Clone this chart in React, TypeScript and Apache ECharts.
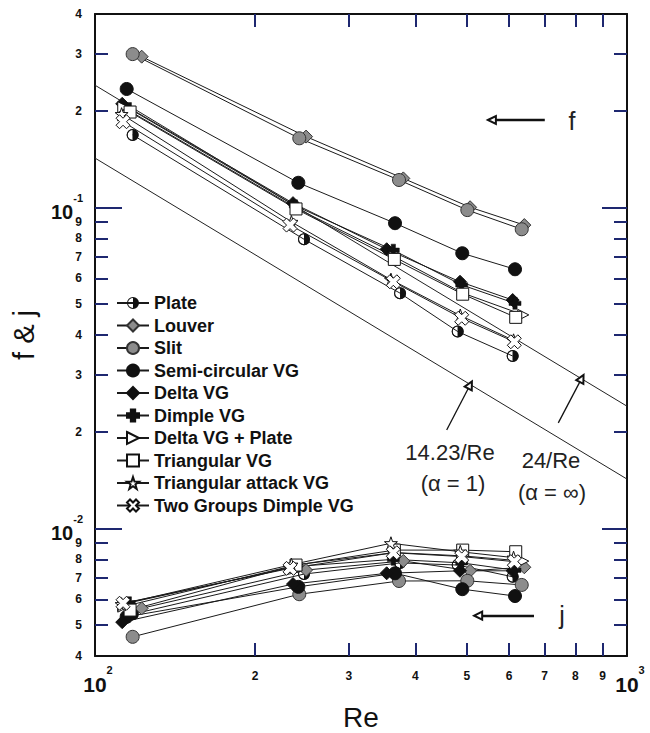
import React, { useEffect, useRef } from 'react';
import * as echarts from 'echarts';

// ---------- data ----------
const SERIES_NAMES = [
  'Plate', 'Louver', 'Slit', 'Semi-circular VG', 'Delta VG', 'Dimple VG',
  'Delta VG + Plate', 'Triangular VG', 'Triangular attack VG', 'Two Groups Dimple VG',
];

const RE_PLATE = [117.7, 247.1, 374.5, 480.6, 609.7];
const F_PLATE = [0.168, 0.0795, 0.054, 0.041, 0.0344];
const J_PLATE = [0.0054, 0.0072, 0.0078, 0.00768, 0.00706];

const RE_LOUVER = [122.4, 249.3, 379.8, 507.0, 641.2];
const F_LOUVER = [0.2945, 0.166, 0.123, 0.1, 0.088];
const J_LOUVER = [0.00563, 0.00741, 0.00791, 0.00737, 0.00756];

const RE_SLIT = [117.7, 242.1, 372.8, 501.0, 634.1];
const F_SLIT = [0.3, 0.164, 0.1216, 0.098, 0.0854];
const J_SLIT = [0.00459, 0.00623, 0.00685, 0.00686, 0.00666];

const RE_SEMI = [114.7, 241.1, 366.4, 490.2, 615.9];
const F_SEMI = [0.2336, 0.1192, 0.0892, 0.0719, 0.0641];
const J_SEMI = [0.0053, 0.00657, 0.00724, 0.00646, 0.00615];

const RE_DELTA = [112.5, 235.6, 353.4, 485.4, 609.7];
const F_DELTA = [0.21, 0.103, 0.074, 0.0586, 0.0514];
const J_DELTA = [0.0051, 0.0067, 0.00724, 0.00737, 0.00737];

const RE_DIMPLE = [116.0, 238.0, 363.7, 489.0, 615.9];
const F_DIMPLE = [0.203, 0.101, 0.0735, 0.0573, 0.0502];
const J_DIMPLE = [0.00586, 0.0076, 0.008, 0.0078, 0.0074];

const RE_DELTA_PLATE = [113.0, 240.0, 366.0, 492.0, 638.4];
const F_DELTA_PLATE = [0.205, 0.099, 0.07, 0.054, 0.0462];
const J_DELTA_PLATE = [0.0057, 0.0077, 0.0084, 0.0082, 0.0079];

const RE_TRIANGULAR = [116.4, 238.7, 365.3, 491.1, 617.8];
const F_TRIANGULAR = [0.198, 0.0988, 0.0688, 0.0536, 0.0454];
const J_TRIANGULAR = [0.00556, 0.00768, 0.00855, 0.00855, 0.00845];

const RE_TRI_ATTACK = [112.2, 234.0, 360.0, 486.0, 612.0];
const F_TRI_ATTACK = [0.195, 0.09, 0.0595, 0.046, 0.0385];
const J_TRI_ATTACK = [0.0058, 0.0077, 0.00898, 0.00845, 0.0081];

const RE_TWO_GROUPS = [112.9, 232.6, 363.7, 489.0, 614.0];
const F_TWO_GROUPS = [0.1847, 0.088, 0.0586, 0.0451, 0.0381];
const J_TWO_GROUPS = [0.00584, 0.0075, 0.00839, 0.00816, 0.00787];

// theoretical lines 14.23/Re and 24/Re, at Re = 100 and 1000
const REF_RE = [100, 1000];
const REF_14 = [0.1423, 0.01423];
const REF_24 = [0.24, 0.024];

// annotation arrows [Re, value]
const ARROW_14_FROM = [458.2, 0.02024];
const ARROW_14_TO = [507.0, 0.02794];
const ARROW_24_FROM = [742.8, 0.0213];
const ARROW_24_TO = [821.9, 0.0293];
const ARROW_F_FROM = [700.6, 0.187];
const ARROW_F_TO = [557.2, 0.187];
const ARROW_J_FROM = [668.6, 0.00534];
const ARROW_J_TO = [525.1, 0.00534];

// axes
const X_MIN = 100;
const X_MAX = 1000;
const Y_MIN = 0.004;
const Y_MAX = 0.4;
const X_TICKS = [200, 300, 400, 500, 600, 700, 800, 900];
const X_TICK_LABELS = ['2', '3', '4', '5', '6', '7', '8', '9'];
const X_DECADES = [100, 1000];
const X_DECADE_EXP = ['2', '3'];
const Y_TICKS = [0.004, 0.005, 0.006, 0.007, 0.008, 0.009, 0.02, 0.03, 0.04, 0.05, 0.06, 0.07, 0.08, 0.09, 0.2, 0.3, 0.4];
const Y_TICK_LABELS = ['4', '5', '6', '7', '8', '9', '2', '3', '4', '5', '6', '7', '8', '9', '2', '3', '4'];
const Y_DECADES = [0.01, 0.1];
const Y_DECADE_EXP = ['-2', '-1'];

// ---------- styles ----------
const PLATE_SYMBOL = 'path://M0,6A6,6 0 1 1 12,6A6,6 0 1 1 0,6Z M1,6A5,5 0 1 0 11,6A5,5 0 1 0 1,6Z M6,1A5,5 0 0 1 6,11Z';
const PLUS_SYMBOL = 'path://M3.2,0H6.8V3.2H10V6.8H6.8V10H3.2V6.8H0V3.2H3.2Z';
const X_SYMBOL = 'path://M0,2.5L2.5,0L5,2.5L7.5,0L10,2.5L7.5,5L10,7.5L7.5,10L5,7.5L2.5,10L0,7.5L2.5,5Z';
const STAR_SYMBOL = 'path://M5,0L6.18,3.38L9.76,3.45L6.9,5.62L7.94,9.05L5,7L2.06,9.05L3.1,5.62L0.24,3.45L3.82,3.38Z';
const TRI_SYMBOL = 'path://M0,0L10,5L0,10Z';

type St = { symbol: string; size: number; fill: string; border: string; bw: number };
const STYLES: Record<string, St> = {
  'Plate': { symbol: PLATE_SYMBOL, size: 12, fill: '#111', border: '#111', bw: 0 },
  'Louver': { symbol: 'diamond', size: 13, fill: '#8c8c8c', border: '#333', bw: 1 },
  'Slit': { symbol: 'circle', size: 13, fill: '#8c8c8c', border: '#333', bw: 1 },
  'Semi-circular VG': { symbol: 'circle', size: 13, fill: '#111', border: '#111', bw: 1 },
  'Delta VG': { symbol: 'diamond', size: 13, fill: '#111', border: '#111', bw: 1 },
  'Dimple VG': { symbol: PLUS_SYMBOL, size: 12, fill: '#111', border: '#111', bw: 0.5 },
  'Delta VG + Plate': { symbol: TRI_SYMBOL, size: 11, fill: '#fff', border: '#111', bw: 1 },
  'Triangular VG': { symbol: 'rect', size: 12, fill: '#fff', border: '#111', bw: 1 },
  'Triangular attack VG': { symbol: STAR_SYMBOL, size: 13, fill: '#fff', border: '#111', bw: 1 },
  'Two Groups Dimple VG': { symbol: X_SYMBOL, size: 14, fill: '#fff', border: '#111', bw: 1 },
};

const DESIGNS = [
  { name: 'Plate', re: RE_PLATE, f: F_PLATE, j: J_PLATE },
  { name: 'Louver', re: RE_LOUVER, f: F_LOUVER, j: J_LOUVER },
  { name: 'Slit', re: RE_SLIT, f: F_SLIT, j: J_SLIT },
  { name: 'Semi-circular VG', re: RE_SEMI, f: F_SEMI, j: J_SEMI },
  { name: 'Delta VG', re: RE_DELTA, f: F_DELTA, j: J_DELTA },
  { name: 'Dimple VG', re: RE_DIMPLE, f: F_DIMPLE, j: J_DIMPLE },
  { name: 'Delta VG + Plate', re: RE_DELTA_PLATE, f: F_DELTA_PLATE, j: J_DELTA_PLATE },
  { name: 'Triangular VG', re: RE_TRIANGULAR, f: F_TRIANGULAR, j: J_TRIANGULAR },
  { name: 'Triangular attack VG', re: RE_TRI_ATTACK, f: F_TRI_ATTACK, j: J_TRI_ATTACK },
  { name: 'Two Groups Dimple VG', re: RE_TWO_GROUPS, f: F_TWO_GROUPS, j: J_TWO_GROUPS },
];

const LOG = (v: number) => Math.log10(v);
const FONT = 'Liberation Sans';
const TICK_INK = '#1e2870';

function lookupLabel(ticks: number[], labels: string[], v: number) {
  for (let i = 0; i < ticks.length; i++) {
    if (Math.abs(LOG(ticks[i]) - v) < 1e-6) return labels[i];
  }
  return '';
}

function buildSeries(): any[] {
  const out: any[] = [];
  DESIGNS.forEach((d) => {
    const st = STYLES[d.name];
    [d.f, d.j].forEach((vals) => {
      const data = d.re.map((r, i) => [r, vals[i]]);
      out.push({
        name: d.name, type: 'line', xAxisIndex: 0, yAxisIndex: 0, data,
        symbol: st.symbol, symbolSize: st.size, showSymbol: true,
        lineStyle: { color: '#1a1a1a', width: 1 },
        itemStyle: { color: st.fill, borderColor: st.border, borderWidth: st.bw },
        emphasis: { disabled: true }, silent: true,
      });
      if (d.name === 'Plate') {
        out.push({ name: 'Plate-cover', type: 'scatter', data, symbol: 'circle', symbolSize: 10, itemStyle: { color: '#fff' }, silent: true });
        out.push({ name: 'Plate-top', type: 'scatter', data, symbol: PLATE_SYMBOL, symbolSize: 12, itemStyle: { color: '#111' }, silent: true });
      }
    });
  });
  out.push({
    name: 'ref14', type: 'line', data: REF_RE.map((r, i) => [r, REF_14[i]]), symbol: 'none',
    lineStyle: { color: '#222', width: 1 }, silent: true,
    markLine: {
      silent: true, symbol: ['none', 'emptyTriangle'], symbolSize: 8, label: { show: false },
      emphasis: { disabled: true }, lineStyle: { color: '#111', width: 1.3, type: 'solid' },
      data: [
        [{ coord: ARROW_14_FROM }, { coord: ARROW_14_TO }],
        [{ coord: ARROW_24_FROM }, { coord: ARROW_24_TO }],
        [{ coord: ARROW_F_FROM, lineStyle: { width: 2.4, color: '#111', type: 'solid' } }, { coord: ARROW_F_TO }],
        [{ coord: ARROW_J_FROM, lineStyle: { width: 2.4, color: '#111', type: 'solid' } }, { coord: ARROW_J_TO }],
      ],
    },
  });
  out.push({
    name: 'ref24', type: 'line', data: REF_RE.map((r, i) => [r, REF_24[i]]), symbol: 'none',
    lineStyle: { color: '#222', width: 1 }, silent: true,
  });
  return out;
}

function textGraphics(): any[] {
  const t = (id: string, x: number, y: number, text: string, size: number) => ({
    type: 'text', id, x, y,
    style: { text, fontFamily: FONT, fontSize: size, fill: '#222', align: 'center', verticalAlign: 'middle' },
  });
  return [
    t('t14', 450, 452, '14.23/Re', 22),
    t('t14a', 453, 483, '(α = 1)', 22),
    t('t24', 551, 460, '24/Re', 22),
    t('t24a', 552, 492, '(α = ∞)', 22),
    t('tf', 572, 121, 'f', 25),
    t('tj', 562, 615, 'j', 25),
  ];
}

function buildOption(): any {
  const axisLineStyle = { color: '#111', width: 2 };
  const tickLine = { color: TICK_INK, width: 2 };
  const labelFont = { fontFamily: FONT, fontWeight: 'bold', fontSize: 12, color: '#111' };
  const xL = LOG(X_MIN);
  const xH = LOG(X_MAX);
  const yL = LOG(Y_MIN);
  const yH = LOG(Y_MAX);
  const X_MINOR = X_TICKS.map(LOG);
  const Y_MINOR = Y_TICKS.slice(1, -1).map(LOG);
  const Y_MAJOR = Y_DECADES.map(LOG);

  const xValueAxis = (extra: any) => ({
    type: 'value', min: xL, max: xH, splitLine: { show: false },
    axisLine: { show: false, onZero: false }, axisTick: { show: false }, axisLabel: { show: false }, ...extra,
  });
  const yValueAxis = (extra: any) => ({
    type: 'value', min: yL, max: yH, splitLine: { show: false },
    axisLine: { show: false, onZero: false }, axisTick: { show: false }, axisLabel: { show: false }, ...extra,
  });

  return {
    animation: false,
    backgroundColor: '#fff',
    textStyle: { fontFamily: FONT },
    grid: { left: 95, top: 14, width: 532, height: 642, containLabel: false, outerBoundsMode: 'none' },
    legend: {
      data: SERIES_NAMES, orient: 'vertical', left: 116, top: 294, padding: 0,
      itemWidth: 32, itemHeight: 15, itemGap: 4.5, selectedMode: false,
      textStyle: { fontFamily: FONT, fontWeight: 'bold', fontSize: 18, color: '#111', lineHeight: 18 },
    },
    xAxis: [
      {
        type: 'log', logBase: 10, min: X_MIN, max: X_MAX, position: 'bottom',
        axisLine: { show: true, onZero: false, lineStyle: axisLineStyle },
        axisTick: { show: false }, axisLabel: { show: false }, splitLine: { show: false },
        name: 'Re', nameLocation: 'middle', nameGap: 47,
        nameTextStyle: { fontFamily: FONT, fontSize: 28, color: '#111' },
      },
      xValueAxis({
        position: 'bottom',
        axisTick: { show: true, inside: true, length: 13, lineStyle: tickLine, customValues: X_MINOR },
        axisLabel: {
          show: true, margin: 14, customValues: X_MINOR, ...labelFont,
          formatter: (v: number) => lookupLabel(X_TICKS, X_TICK_LABELS, v),
        },
      }),
      xValueAxis({
        position: 'bottom',
        axisLabel: {
          show: true, margin: 8, customValues: X_DECADES.map(LOG),
          formatter: (v: number) => `{b|10}{s|${lookupLabel(X_DECADES, X_DECADE_EXP, v)}}`,
          rich: {
            b: { fontFamily: FONT, fontWeight: 'bold', fontSize: 21, color: '#111', padding: [10, 0, 0, 6], verticalAlign: 'bottom' },
            s: { fontFamily: FONT, fontWeight: 'bold', fontSize: 11, color: '#111', verticalAlign: 'top' },
          },
        },
      }),
      xValueAxis({
        position: 'top',
        axisLine: { show: true, onZero: false, lineStyle: axisLineStyle },
        axisTick: { show: true, inside: true, length: 13, lineStyle: tickLine, customValues: X_MINOR },
      }),
    ],
    yAxis: [
      {
        type: 'log', logBase: 10, min: Y_MIN, max: Y_MAX, position: 'left',
        axisLine: { show: true, onZero: false, lineStyle: axisLineStyle },
        axisTick: { show: false }, axisLabel: { show: false }, splitLine: { show: false },
        name: 'f & j', nameLocation: 'middle', nameGap: 57, nameRotate: 90,
        nameTextStyle: { fontFamily: FONT, fontSize: 29, color: '#111' },
      },
      yValueAxis({
        position: 'left',
        axisTick: { show: true, inside: true, length: 13, lineStyle: tickLine, customValues: Y_MINOR },
        axisLabel: {
          show: true, margin: 13, customValues: Y_TICKS.map(LOG), ...labelFont,
          formatter: (v: number) => lookupLabel(Y_TICKS, Y_TICK_LABELS, v),
        },
      }),
      yValueAxis({
        position: 'left',
        axisTick: { show: true, inside: true, length: 27, lineStyle: tickLine, customValues: Y_MAJOR },
        axisLabel: {
          show: true, margin: 12, customValues: Y_MAJOR,
          formatter: (v: number) => `{b|10}{s|${lookupLabel(Y_DECADES, Y_DECADE_EXP, v)}}`,
          rich: {
            b: { fontFamily: FONT, fontWeight: 'bold', fontSize: 20, color: '#111', padding: [10, 0, 0, 0], verticalAlign: 'bottom' },
            s: { fontFamily: FONT, fontWeight: 'bold', fontSize: 11, color: '#111', verticalAlign: 'top' },
          },
        },
      }),
      yValueAxis({
        position: 'right',
        axisLine: { show: true, onZero: false, lineStyle: axisLineStyle },
        axisTick: { show: true, inside: true, length: 13, lineStyle: tickLine, customValues: Y_MINOR },
      }),
      yValueAxis({
        position: 'right',
        axisTick: { show: true, inside: true, length: 25, lineStyle: tickLine, customValues: Y_MAJOR },
      }),
    ],
    graphic: textGraphics(),
    series: buildSeries(),
  };
}

export default function App() {
  const ref = useRef<HTMLDivElement>(null);
  useEffect(() => {
    if (!ref.current) return;
    const chart = echarts.init(ref.current, null, { renderer: 'svg' });
    chart.setOption(buildOption());
    return () => chart.dispose();
  }, []);
  return (
    <div ref={ref} style={{ position: 'absolute', left: 0, top: 0, width: 650, height: 733, background: '#fff' }} />
  );
}
